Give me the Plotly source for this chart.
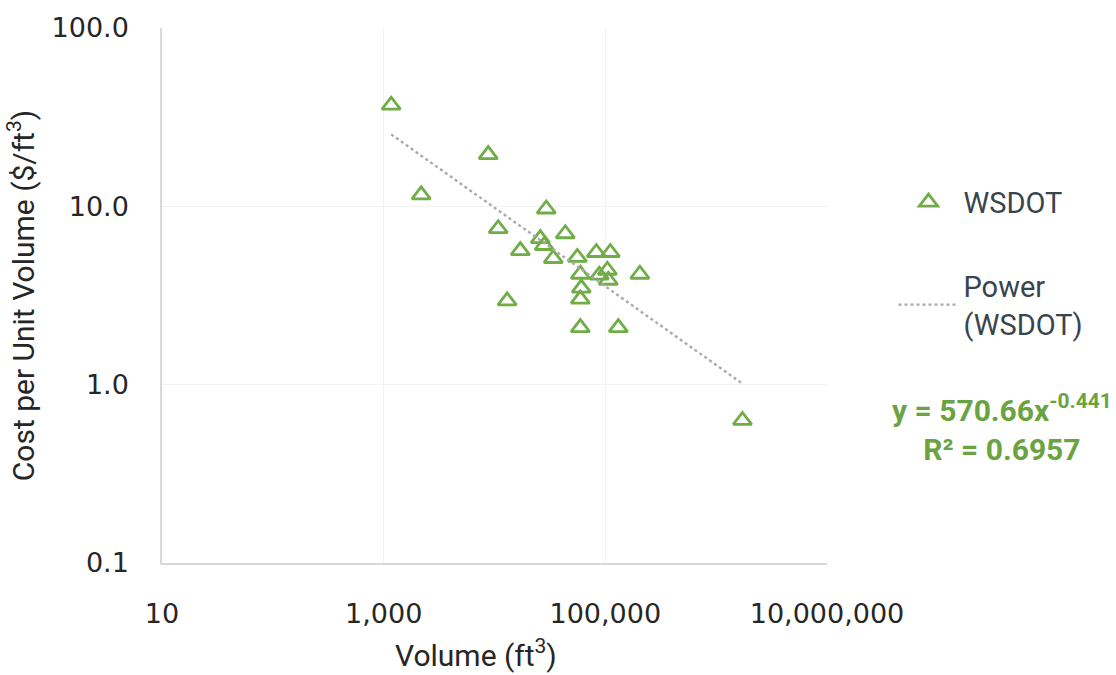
import plotly.graph_objects as go

# Project volumes (ft^3) and unit costs ($/ft^3)
volume = [1169, 8780, 2180, 29300, 10800, 43500, 25900, 28100, 17100, 33900,
          55900, 82900, 110900, 59500, 88300, 104300, 106400, 60700, 59500,
          204900, 13000, 59500, 131000, 1726000]
cost = [36.9, 19.5, 11.6, 9.66, 7.49, 7.02, 6.59, 6.03, 5.65, 5.10,
        5.17, 5.51, 5.51, 4.16, 4.11, 4.38, 3.85, 3.48, 3.02,
        4.16, 2.95, 2.09, 2.09, 0.63]

# Power-law fit y = a * x^b
fit_a = 570.66
fit_b = -0.441
fit_r2 = 0.6957

x_tickvals = [10, 1000, 100000, 10000000]
x_ticktext = ["10", "1,000", "100,000", "10,000,000"]
y_tickvals = [0.1, 1, 10, 100]
y_ticktext = ["0.1", "1.0", "10.0", "100.0"]

GREEN = "#70AD47"
TEXT_GREEN = "#6AA341"
TICK_FONT = dict(family="DejaVu Sans", size=27, color="#262626")
LABEL_FONT = dict(family="Roboto", size=29, color="#38444E")

fit_x = [min(volume), max(volume)]
fit_y = [fit_a * v ** fit_b for v in fit_x]

fig = go.Figure()

fig.add_trace(go.Scatter(
    x=volume, y=cost, mode="markers", name="WSDOT",
    legendgroup="pts",
    marker=dict(symbol="triangle-up-open", size=16, color=GREEN,
                line=dict(width=2.8, color=GREEN)),
))

fig.add_trace(go.Scatter(
    x=fit_x, y=fit_y, mode="lines", name="Power<br>(WSDOT)",
    legendgroup="fit",
    line=dict(color="#AAAAAA", width=2.4, dash="dot"),
))

fig.update_xaxes(
    type="log", range=[1, 7],
    tickvals=x_tickvals, ticktext=x_ticktext,
    tickfont=TICK_FONT, ticklabelstandoff=26,
    showgrid=True, gridcolor="#F3F3F3", gridwidth=1,
    showline=True, linecolor="#D9D9D9", linewidth=1.5,
    zeroline=False,
)
fig.update_yaxes(
    type="log", range=[-1, 2],
    tickvals=y_tickvals, ticktext=y_ticktext,
    tickfont=TICK_FONT, ticklabelstandoff=26,
    showgrid=True, gridcolor="#F3F3F3", gridwidth=1,
    showline=True, linecolor="#D9D9D9", linewidth=1.5,
    zeroline=False,
    title=dict(text="Cost per Unit Volume ($/ft<sup>3</sup>)",
               font=dict(family="Roboto", size=30, color="#262626"),
               standoff=8),
)

fig.add_annotation(
    text="Volume (ft<sup>3</sup>)", xref="paper", yref="paper",
    x=0.472, y=-0.17, xanchor="center", yanchor="middle", showarrow=False,
    font=dict(family="Roboto", size=30, color="#262626"),
)

fig.add_annotation(
    text=f"<b>y = {fit_a:.2f}x<sup>{fit_b:.3f}</sup></b><br><b>R² = {fit_r2:.4f}</b>",
    xref="paper", yref="paper", x=1.263, y=0.252,
    xanchor="center", yanchor="middle", align="center", showarrow=False,
    font=dict(family="Roboto", size=30, color=TEXT_GREEN),
)

fig.update_layout(
    width=1116, height=675,
    margin=dict(l=162, r=289, t=22, b=112),
    paper_bgcolor="white", plot_bgcolor="white",
    showlegend=True,
    legend=dict(
        x=1.1, y=0.722, xanchor="left", yanchor="top",
        font=LABEL_FONT, itemwidth=60,
        traceorder="grouped", tracegroupgap=43,
        bgcolor="rgba(0,0,0,0)",
    ),
)

fig.write_html("out.html")
